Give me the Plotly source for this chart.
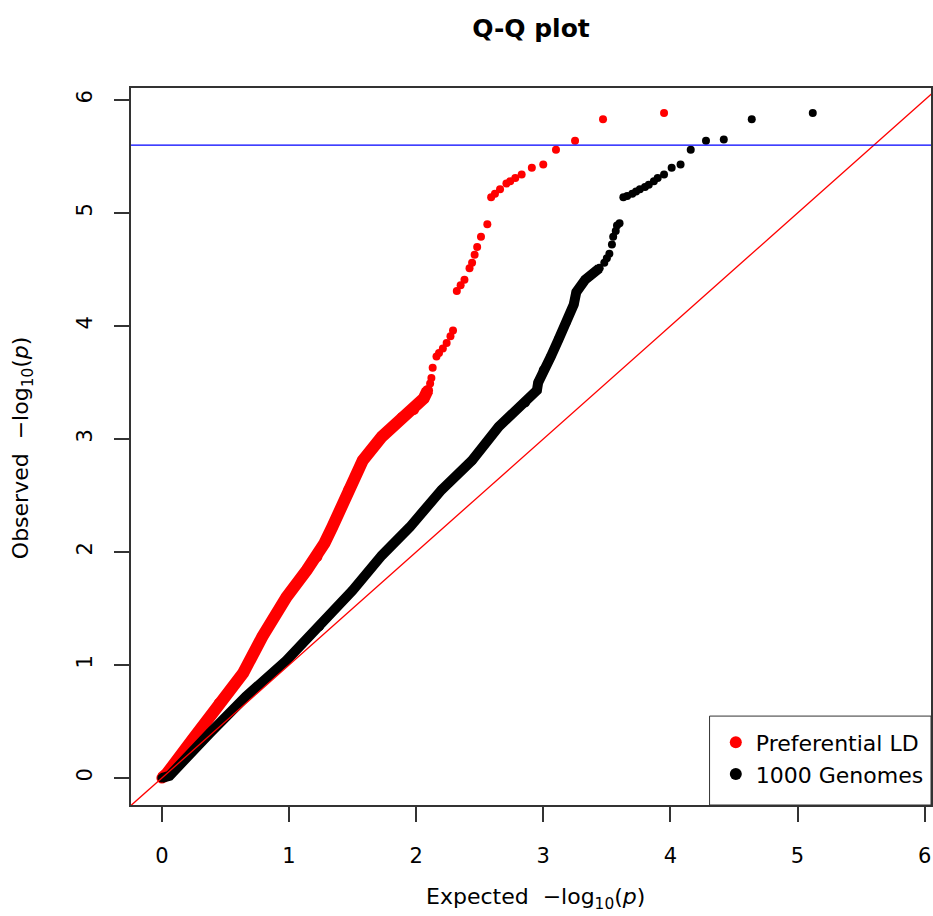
import plotly.graph_objects as go

title_text = "Q-Q plot"
series_names = ["Preferential LD", "1000 Genomes"]
tick_vals = [0, 1, 2, 3, 4, 5, 6]
threshold = 5.6
ref_line = [-1, 7]

# Preferential LD - dense lower band
pref_band_x = [0.0, 0.04, 0.24, 0.45, 0.64, 0.79, 0.98, 1.14, 1.22, 1.28, 1.34, 1.47, 1.58,
               1.73, 1.89, 1.98, 2.06, 2.09]
pref_band_y = [0.0, 0.04, 0.34, 0.66, 0.93, 1.25, 1.60, 1.84, 1.96, 2.08, 2.22, 2.55, 2.81,
               3.02, 3.19, 3.26, 3.36, 3.43]
# Preferential LD - sparse upper points
pref_pts_x = [2.11, 2.12, 2.13, 2.16, 2.18, 2.21, 2.24, 2.27, 2.29,
              2.32, 2.35, 2.38, 2.42, 2.44, 2.46, 2.48, 2.51, 2.56,
              2.59, 2.62, 2.66, 2.71, 2.74, 2.78, 2.83, 2.91, 3.00, 3.10, 3.25, 3.47, 3.95]
pref_pts_y = [3.49, 3.54, 3.63, 3.73, 3.76, 3.80, 3.85, 3.91, 3.96,
              4.31, 4.36, 4.41, 4.51, 4.56, 4.63, 4.70, 4.79, 4.90,
              5.14, 5.17, 5.21, 5.26, 5.28, 5.31, 5.34, 5.40, 5.43, 5.56, 5.64, 5.83, 5.885]

# 1000 Genomes - dense lower band
kg_band_x = [0.0, 0.06, 0.38, 0.66, 0.98, 1.24, 1.50, 1.73, 1.95, 2.20, 2.44, 2.65, 2.86,
             2.95, 2.96, 3.00, 3.06, 3.12, 3.18, 3.24, 3.26, 3.33, 3.44]
kg_band_y = [0.0, 0.02, 0.40, 0.72, 1.04, 1.34, 1.66, 1.97, 2.22, 2.55, 2.81, 3.11, 3.32,
             3.43, 3.50, 3.61, 3.73, 3.88, 4.03, 4.19, 4.30, 4.41, 4.51]
# 1000 Genomes - sparse upper points
kg_pts_x = [3.48, 3.50, 3.52, 3.54, 3.55, 3.57, 3.58, 3.60,
            3.63, 3.66, 3.70, 3.73, 3.76, 3.80, 3.83, 3.87, 3.90, 3.95, 4.01, 4.08,
            4.16, 4.28, 4.42, 4.64, 5.12]
kg_pts_y = [4.56, 4.60, 4.64, 4.72, 4.79, 4.84, 4.89, 4.91,
            5.14, 5.15, 5.17, 5.19, 5.21, 5.23, 5.25, 5.28, 5.31, 5.34, 5.40, 5.43,
            5.56, 5.64, 5.65, 5.83, 5.885]

RED = "#FF0000"
BLACK = "#000000"
FONT = "DejaVu Sans, Verdana, sans-serif"

fig = go.Figure()

fig.add_trace(go.Scatter(x=pref_band_x, y=pref_band_y, mode="lines+markers",
                         line=dict(color=RED, width=12), marker=dict(color=RED, size=11),
                         showlegend=False, legendgroup="a", hoverinfo="skip"))
fig.add_trace(go.Scatter(x=pref_pts_x, y=pref_pts_y, mode="markers", name=series_names[0],
                         marker=dict(color=RED, size=8), legendgroup="a"))
fig.add_trace(go.Scatter(x=kg_band_x, y=kg_band_y, mode="lines+markers",
                         line=dict(color=BLACK, width=10), marker=dict(color=BLACK, size=9),
                         showlegend=False, legendgroup="b", hoverinfo="skip"))
fig.add_trace(go.Scatter(x=kg_pts_x, y=kg_pts_y, mode="markers", name=series_names[1],
                         marker=dict(color=BLACK, size=8), legendgroup="b"))
# y = x reference line
fig.add_trace(go.Scatter(x=ref_line, y=ref_line, mode="lines", line=dict(color=RED, width=1.3),
                         showlegend=False, hoverinfo="skip"))
# significance threshold
fig.add_trace(go.Scatter(x=ref_line, y=[threshold, threshold], mode="lines",
                         line=dict(color="#0000FF", width=1.3), showlegend=False, hoverinfo="skip"))

axis_common = dict(
    showgrid=False, zeroline=False, showline=True, mirror=True,
    linecolor="#333333", linewidth=2,
    ticks="outside", ticklen=15, tickwidth=1.5, tickcolor="#333333",
    tickvals=tick_vals, tickfont=dict(family=FONT, size=21, color="black"),
    fixedrange=True,
)

fig.update_layout(
    width=933, height=916,
    margin=dict(l=131, r=0, t=88, b=111),
    paper_bgcolor="white", plot_bgcolor="white",
    font=dict(family=FONT, color="black"),
    title=dict(text="<b>" + title_text + "</b>", x=0.5, xref="paper", xanchor="center",
               y=1 - 28 / 916, yref="container", yanchor="middle",
               font=dict(family=FONT, size=25, color="black")),
    xaxis=dict(range=[-0.243, 6.05], ticklabelstandoff=16, **axis_common),
    yaxis=dict(range=[-0.239, 6.106], tickangle=-90, ticklabelstandoff=14, **axis_common),
    showlegend=True,
    legend=dict(x=0.731, y=0.1164, xanchor="left", yanchor="top",
                bgcolor="rgba(0,0,0,0)", borderwidth=0,
                font=dict(family=FONT, size=22, color="black"),
                itemsizing="constant", tracegroupgap=0),
    shapes=[dict(type="rect", xref="paper", yref="paper", x0=0.7232, x1=1.0, y0=0.0, y1=0.124,
                 line=dict(color="#333333", width=1), fillcolor="rgba(0,0,0,0)", layer="above")],
    annotations=[
        dict(text="Expected  \u2212log<sub>10</sub>(<i>p</i>)", xref="paper", yref="paper",
             x=0.505, y=-0.131, xanchor="center", yanchor="middle", showarrow=False,
             font=dict(family=FONT, size=22, color="black")),
        dict(text="Observed  \u2212log<sub>10</sub>(<i>p</i>)", xref="paper", yref="paper",
             x=-0.1347, y=0.498, xanchor="center", yanchor="middle", textangle=-90,
             showarrow=False, font=dict(family=FONT, size=22, color="black")),
    ],
)

fig.write_html("out.html", config={"displayModeBar": False},
               post_script="document.body.style.margin='0px';")
